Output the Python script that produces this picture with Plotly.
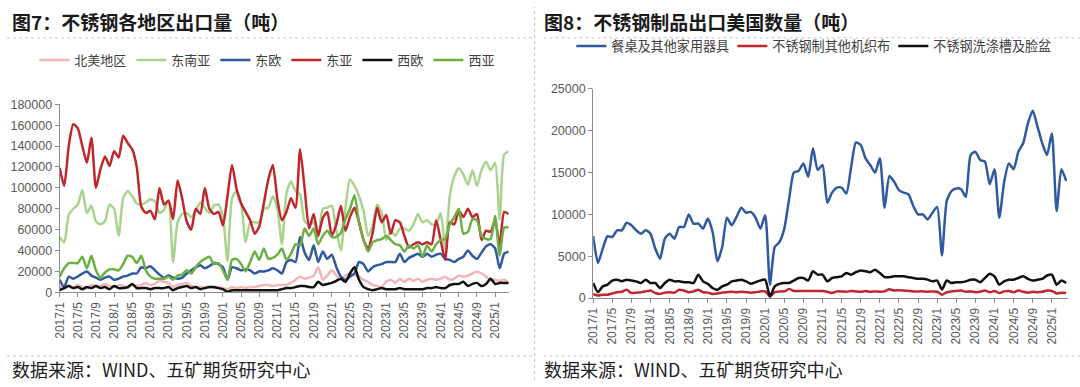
import plotly.graph_objects as go

W, H = 1080, 387

# ---------------- categories ----------------
months = [f"{y}/{m}" for y in range(2017, 2026) for m in range(1, 13)][:100]
tick_labels = months[::4]

# ---------------- Fig 7: regional export volume (tonnes) ----------------
north_america = [
    5000, 7000, 6000, 5000, 7000, 5000, 4000, 7000, 6000, 6000,
    8000, 6000, 5000, 7000, 6000, 4000, 7000, 6000, 7000, 9000,
    7000, 8000, 11000, 10000, 9000, 5000, 7000, 8000, 9000, 6000,
    5000, 5000, 5000, 5000, 4000, 5000, 4000, 3000, 5000, 4000,
    5000, 4000, 5000, 5000, 6000, 7000, 7000, 6000, 7000, 7000,
    7000, 9000, 12000, 15000, 13000, 14000, 16000, 24000, 12000, 16000,
    21000, 16000, 12000, 16000, 18000, 16000, 15000, 12000, 10000, 7000,
    6000, 5000, 10000, 12000, 9000, 13000, 10000, 13000, 11000, 13000,
    10000, 12000, 13000, 12000, 13000, 15000, 12000, 13000, 16000, 15000,
    16000, 18000, 20000, 18000, 15000, 12000, 12000, 11000, 12000, 9000]

southeast_asia = [
    53000, 48000, 74000, 80000, 84000, 98000, 76000, 83000, 68000, 65000,
    68000, 84000, 80000, 54000, 90000, 97000, 92000, 85000, 84000, 86000,
    89000, 87000, 76000, 79000, 87000, 29000, 67000, 75000, 76000, 72000,
    78000, 86000, 81000, 76000, 83000, 84000, 72000, 30000, 90000, 97000,
    86000, 48000, 67000, 67000, 67000, 80000, 81000, 92000, 80000, 46000,
    95000, 106000, 97000, 94000, 68000, 65000, 67000, 53000, 80000, 81000,
    83000, 59000, 40000, 81000, 108000, 102000, 92000, 78000, 54000, 64000,
    84000, 76000, 50000, 59000, 54000, 61000, 61000, 59000, 65000, 75000,
    67000, 69000, 65000, 65000, 76000, 42000, 92000, 111000, 119000, 113000,
    103000, 117000, 102000, 117000, 125000, 117000, 124000, 70000, 132000, 135000]

east_europe = [
    12000, 5000, 15000, 13000, 15000, 18000, 20000, 16000, 14000, 12000,
    14000, 15000, 12000, 13000, 15000, 16000, 18000, 18000, 24000, 23000,
    25000, 21000, 17000, 14000, 16000, 14000, 13000, 14000, 18000, 21000,
    24000, 26000, 23000, 25000, 28000, 27000, 24000, 12000, 24000, 23000,
    21000, 22000, 21000, 18000, 20000, 20000, 21000, 23000, 21000, 18000,
    29000, 31000, 29000, 53000, 38000, 31000, 45000, 29000, 39000, 32000,
    36000, 24000, 15000, 12000, 15000, 18000, 29000, 27000, 20000, 24000,
    26000, 27000, 29000, 29000, 29000, 37000, 29000, 33000, 35000, 37000,
    34000, 37000, 34000, 36000, 37000, 32000, 31000, 29000, 32000, 34000,
    40000, 35000, 32000, 38000, 44000, 46000, 42000, 23000, 37000, 39000]

east_asia = [
    119000, 102000, 140000, 161000, 157000, 140000, 124000, 148000, 100000, 118000,
    130000, 121000, 135000, 129000, 150000, 143000, 137000, 120000, 82000, 76000,
    78000, 70000, 100000, 84000, 88000, 70000, 107000, 90000, 68000, 60000,
    80000, 75000, 100000, 80000, 75000, 77000, 64000, 92000, 122000, 99000,
    85000, 77000, 69000, 56000, 63000, 85000, 108000, 122000, 89000, 69000,
    77000, 90000, 81000, 137000, 100000, 61000, 75000, 54000, 71000, 77000,
    54000, 65000, 83000, 59000, 72000, 81000, 67000, 50000, 42000, 57000,
    81000, 67000, 74000, 56000, 69000, 67000, 54000, 43000, 46000, 48000,
    46000, 48000, 46000, 69000, 50000, 31000, 67000, 65000, 78000, 72000,
    80000, 72000, 75000, 50000, 59000, 58000, 69000, 45000, 77000, 75000]

west_europe = [
    2000, 4000, 6000, 4000, 5000, 3000, 5000, 4000, 6000, 4000,
    5000, 3000, 6000, 4000, 4000, 5000, 8000, 4000, 4000, 4000,
    3000, 4000, 4000, 4000, 5000, 2000, 4000, 5000, 6000, 4000,
    5000, 3000, 4000, 5000, 5000, 4000, 3000, 500, 2000, 2000,
    2000, 2000, 2000, 2000, 2000, 2000, 2000, 2000, 2000, 3000,
    4000, 4000, 5000, 6000, 6000, 5000, 5000, 10000, 7000, 8000,
    9000, 11000, 13000, 10000, 18000, 24000, 12000, 5000, 3000, 2000,
    3000, 4000, 3000, 3000, 3000, 4000, 3000, 3000, 3000, 3000,
    3000, 4000, 4000, 5000, 4000, 4000, 7000, 8000, 8000, 10000,
    6000, 8000, 9000, 6000, 8000, 13000, 8000, 9000, 9000, 9000]

west_asia = [
    15000, 23000, 28000, 28000, 28000, 34000, 23000, 35000, 21000, 14000,
    19000, 22000, 22000, 21000, 27000, 35000, 34000, 28000, 35000, 21000,
    15000, 13000, 13000, 13000, 15000, 12000, 16000, 17000, 21000, 18000,
    24000, 29000, 32000, 34000, 27000, 28000, 21000, 12000, 31000, 32000,
    27000, 20000, 29000, 39000, 31000, 42000, 32000, 33000, 36000, 42000,
    31000, 37000, 46000, 45000, 61000, 54000, 61000, 46000, 54000, 59000,
    53000, 53000, 57000, 70000, 80000, 93000, 67000, 50000, 39000, 48000,
    50000, 51000, 54000, 50000, 46000, 45000, 39000, 45000, 42000, 45000,
    34000, 45000, 39000, 46000, 50000, 51000, 65000, 72000, 80000, 56000,
    58000, 70000, 69000, 54000, 51000, 51000, 73000, 35000, 62000, 62000]

# ---------------- Fig 8: stainless products exported to the US (tonnes) ----------------
tableware = [
    7400, 4200, 5900, 7400, 7300, 8100, 8100, 9000, 8700, 8100,
    7700, 8100, 7700, 5900, 4700, 7100, 7700, 7100, 8500, 8500,
    10000, 8900, 8900, 8300, 9500, 7900, 4400, 6100, 9600, 8700,
    9700, 10800, 10200, 10300, 9600, 8300, 9900, 1600, 6100, 6700,
    8300, 11800, 15000, 15200, 16100, 14500, 17900, 15300, 15900, 11400,
    12600, 13200, 13200, 12500, 15700, 18600, 18300, 16700, 15900, 15000,
    16700, 10800, 14600, 13900, 12900, 12600, 12400, 11000, 10000, 10000,
    9400, 10200, 10900, 5100, 11600, 12800, 13100, 13000, 12100, 17100,
    17500, 16500, 16300, 13600, 15400, 9600, 13800, 16100, 15400, 17500,
    18500, 20900, 22400, 20500, 18500, 17100, 19700, 10400, 15400, 14000]

woven_cloth = [
    500, 300, 400, 400, 550, 700, 750, 1000, 600, 650,
    700, 800, 900, 600, 500, 650, 700, 650, 1000, 900,
    700, 800, 1000, 700, 650, 500, 550, 650, 700, 750,
    700, 750, 700, 650, 700, 800, 800, 200, 700, 800,
    800, 1100, 850, 850, 850, 850, 850, 850, 850, 750,
    600, 800, 800, 750, 850, 800, 750, 850, 750, 800,
    750, 800, 1050, 900, 950, 900, 850, 800, 800, 800,
    750, 800, 750, 400, 700, 800, 850, 900, 750, 800,
    700, 750, 900, 700, 850, 600, 800, 850, 700, 900,
    750, 650, 750, 700, 750, 900, 850, 550, 650, 600]

sinks = [
    1800, 700, 1400, 1600, 2100, 2200, 2000, 2200, 2100, 2000,
    1800, 2200, 1800, 1800, 1200, 1800, 2200, 2000, 2000, 1900,
    1900, 1800, 2800, 2000, 1700, 1200, 1000, 1400, 1600, 2000,
    2100, 2200, 2000, 1700, 1900, 2100, 2200, 200, 1400, 1700,
    1800, 1800, 2100, 2400, 2400, 2100, 3200, 2800, 2800, 2000,
    2400, 2500, 2600, 3000, 2800, 3100, 3300, 3200, 3100, 3400,
    3000, 2500, 2500, 2600, 2600, 2600, 2500, 2400, 2300, 2300,
    2200, 2000, 2100, 1000, 2100, 1800, 1900, 1900, 2000, 2200,
    2200, 1900, 2400, 2900, 2600, 1600, 2000, 2200, 2200, 2400,
    2600, 2300, 2100, 2200, 2300, 2700, 2800, 1600, 2100, 1800]

for s in (north_america, southeast_asia, east_europe, east_asia, west_europe,
          west_asia, tableware, woven_cloth, sinks):
    assert len(s) == len(months), len(s)

left_series = [
    ("北美地区", north_america, "#F4B5B9"),
    ("东南亚", southeast_asia, "#A9D48E"),
    ("东欧", east_europe, "#2F5AA0"),
    ("东亚", east_asia, "#C0272D"),
    ("西欧", west_europe, "#111111"),
    ("西亚", west_asia, "#6CAF42"),
]
right_series = [
    ("餐桌及其他家用器具", tableware, "#2F5AA0"),
    ("不锈钢制其他机织布", woven_cloth, "#C0272D"),
    ("不锈钢洗涤槽及脸盆", sinks, "#111111"),
]

FONT = "Liberation Sans, Noto Sans CJK SC, sans-serif"
CJK = "Noto Sans CJK SC, sans-serif"

fig = go.Figure()
for name, vals, col in left_series:
    fig.add_trace(go.Scatter(x=months, y=vals, name=name, mode="lines",
                             line=dict(color=col, width=2.5, shape="spline", smoothing=0.6),
                             xaxis="x", yaxis="y", legend="legend"))
for name, vals, col in right_series:
    fig.add_trace(go.Scatter(x=months, y=vals, name=name, mode="lines",
                             line=dict(color=col, width=2.5, shape="spline", smoothing=0.6),
                             xaxis="x2", yaxis="y2", legend="legend2"))

axis_col = "#8c8c8c"
tick_font = dict(family=FONT, size=12, color="#595959")

def px_x(p):
    return p / W

def px_y(p):
    return 1 - p / H

xcommon = dict(type="category", categoryorder="array", categoryarray=months,
               tickmode="array", tickvals=tick_labels, ticktext=tick_labels,
               tickangle=-90, showline=True, linecolor=axis_col, linewidth=1,
               ticks="outside", ticklen=4, tickcolor=axis_col, showgrid=False,
               zeroline=False, tickfont=tick_font, fixedrange=True)
ycommon = dict(showline=True, linecolor=axis_col, linewidth=1, ticks="outside",
               ticklen=4, tickcolor=axis_col, showgrid=False, zeroline=False,
               tickformat="d",
               tickfont=dict(family=FONT, size=12.5, color="#595959"), fixedrange=True)

fig.update_layout(
    width=W, height=H, autosize=False,
    margin=dict(l=0, r=0, t=0, b=0),
    paper_bgcolor="white", plot_bgcolor="white",
    font=dict(family=FONT, color="#404040"),
    xaxis=dict(domain=[px_x(53), px_x(505)], range=[0, 99], anchor="y", **xcommon),
    yaxis=dict(domain=[px_y(296), px_y(101)], range=[0, 180000], dtick=20000,
               anchor="x", **ycommon),
    xaxis2=dict(domain=[px_x(590), px_x(1068)], range=[0, 99.4], anchor="y2", **xcommon),
    yaxis2=dict(domain=[px_y(302), px_y(85)], range=[0, 25000], dtick=5000,
                anchor="x2", **ycommon),
    legend=dict(orientation="h", x=px_x(262), y=px_y(55), xanchor="center",
                yanchor="middle", font=dict(family=CJK, size=13, color="#404040"),
                itemwidth=30, tracegroupgap=0, bgcolor="rgba(0,0,0,0)"),
    legend2=dict(orientation="h", x=px_x(568), y=px_y(41), xanchor="left",
                 yanchor="middle", font=dict(family=CJK, size=13.1, color="#404040"),
                 itemwidth=30, entrywidth=116, entrywidthmode="pixels",
                 tracegroupgap=0, bgcolor="rgba(0,0,0,0)"),
    showlegend=True,
)

dot = dict(color="#c6c6c6", width=1, dash="dot")
shapes = [
    dict(type="line", xref="paper", yref="paper", x0=0, x1=px_x(530), y0=px_y(32), y1=px_y(32), line=dot),
    dict(type="line", xref="paper", yref="paper", x0=px_x(540), x1=1, y0=px_y(32), y1=px_y(32), line=dot),
    dict(type="line", xref="paper", yref="paper", x0=0, x1=px_x(530), y0=px_y(362), y1=px_y(362), line=dot),
    dict(type="line", xref="paper", yref="paper", x0=px_x(540), x1=1, y0=px_y(362), y1=px_y(362), line=dot),
    dict(type="line", xref="paper", yref="paper", x0=px_x(531), x1=px_x(531), y0=0, y1=1, line=dot),
]
fig.update_layout(shapes=shapes)

ann = [
    dict(text="<b>图7：不锈钢各地区出口量（吨）</b>", x=px_x(3), y=px_y(15)),
    dict(text="<b>图8：不锈钢制品出口美国数量（吨）</b>", x=px_x(538), y=px_y(15)),
]
for a in ann:
    fig.add_annotation(xref="paper", yref="paper", xanchor="left", yanchor="middle",
                       showarrow=False, font=dict(family=CJK, size=19, color="#1a1a1a"), **a)
for xx in (3, 538):
    fig.add_annotation(text="数据来源：WIND、五矿期货研究中心", x=px_x(xx), y=px_y(376),
                       xref="paper", yref="paper", xanchor="left", yanchor="middle",
                       showarrow=False, font=dict(family=CJK, size=18, color="#222222"))

fig.write_html("out.html", config={"displayModeBar": False, "staticPlot": True},
               post_script="document.body.style.margin='0';document.body.style.overflow='hidden';")
